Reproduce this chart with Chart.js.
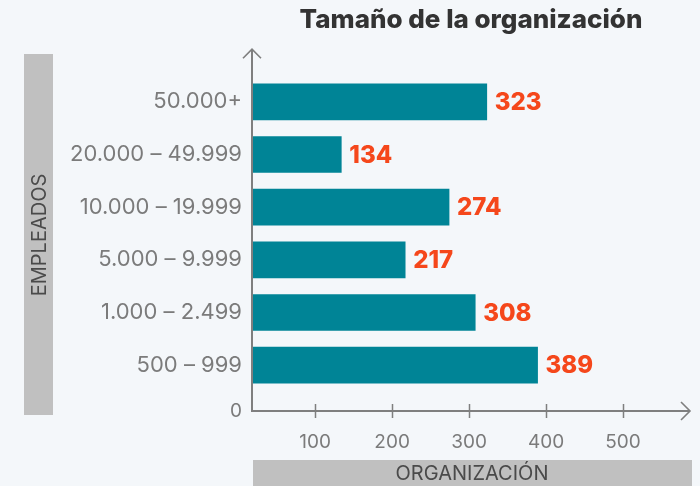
<!DOCTYPE html>
<html>
<head>
<meta charset="utf-8">
<script src="https://cdn.jsdelivr.net/npm/chart.js@4"></script>
<style>
    html, body { margin: 0; padding: 0; background: #f4f7fa; }
    #wrap { width: 700px; height: 486px; }
</style>
</head>
<body>
<div id="wrap"><canvas id="sizeChart"></canvas></div>
<script>
// DATA
const categories = ["50.000+", "20.000 – 49.999", "10.000 – 19.999", "5.000 – 9.999", "1.000 – 2.499", "500 – 999"];
const counts = [323, 134, 274, 217, 308, 389];
const xTicks = [100, 200, 300, 400, 500];
const originLabel = "0";

const axisGray = "#7f7f7f";
const labelGray = "#7b7b7b";
const fontFam = "Inter, 'Noto Sans', sans-serif";

// axes with arrows, tick marks, gray title boxes, value labels
const decorations = {
    id: "decorations",
    beforeDraw(chart) {
        const ctx = chart.ctx;
        ctx.save();
        ctx.fillStyle = "#c0c0c0";
        ctx.fillRect(24, 54, 29, 361);
        ctx.fillRect(253, 460, 439, 26);
        ctx.fillStyle = "#4a4a4a";
        ctx.font = "20px " + fontFam;
        ctx.textAlign = "center";
        ctx.textBaseline = "middle";
        ctx.fillText("ORGANIZACIÓN", 472, 474);
        ctx.translate(39, 235);
        ctx.rotate(-Math.PI / 2);
        ctx.fillText("EMPLEADOS", 0, 1);
        ctx.restore();
    },
    afterDraw(chart) {
        const ctx = chart.ctx;
        const a = chart.chartArea;
        const xs = chart.scales.x;
        ctx.save();
        ctx.strokeStyle = axisGray;
        ctx.lineWidth = 2;
        ctx.beginPath();
        ctx.moveTo(a.left, a.top);
        ctx.lineTo(a.left, a.bottom);
        ctx.lineTo(a.right, a.bottom);
        ctx.stroke();
        // arrows
        ctx.lineWidth = 1.6;
        ctx.beginPath();
        ctx.moveTo(a.left - 9, a.top + 9);
        ctx.lineTo(a.left, a.top);
        ctx.lineTo(a.left + 9, a.top + 9);
        ctx.moveTo(a.right - 9, a.bottom - 9);
        ctx.lineTo(a.right, a.bottom);
        ctx.lineTo(a.right - 9, a.bottom + 9);
        ctx.stroke();
        // tick marks
        ctx.lineWidth = 1.5;
        xTicks.forEach(v => {
            const px = Math.round(xs.getPixelForValue(v)) + 0.5;
            ctx.beginPath();
            ctx.moveTo(px, a.bottom - 7);
            ctx.lineTo(px, a.bottom + 7);
            ctx.stroke();
        });
        ctx.restore();
    },
    afterDatasetsDraw(chart) {
        const ctx = chart.ctx;
        ctx.save();
        ctx.fillStyle = "#f5471b";
        ctx.font = "800 24px " + fontFam;
        ctx.textAlign = "left";
        ctx.textBaseline = "middle";
        chart.getDatasetMeta(0).data.forEach((bar, i) => {
            ctx.fillText(counts[i], bar.x + 8, bar.y + 1);
        });
        ctx.restore();
    }
};

new Chart(document.getElementById("sizeChart"), {
    type: "bar",
    data: {
        datasets: [{
            data: counts.map((v, i) => ({ x: v, y: i })),
            backgroundColor: "#008496",
            barThickness: 36
        }]
    },
    options: {
        indexAxis: "y",
        responsive: true,
        maintainAspectRatio: false,
        animation: false,
        layout: { padding: { left: 0, right: 10, top: 0, bottom: 0 } },
        plugins: {
            legend: { display: false },
            tooltip: { enabled: false },
            title: {
                display: true,
                fullSize: false,
                text: "Tamaño de la organización",
                color: "#333333",
                font: { family: fontFam, size: 26, weight: "800", lineHeight: 1.2 },
                padding: { top: 5, bottom: 13 }
            }
        },
        scales: {
            y: {
                type: "linear",
                reverse: true,
                offset: false,
                min: -1,
                max: 5.87,
                grid: { display: false, drawTicks: false, offset: false },
                border: { display: false },
                afterBuildTicks: s => {
                    s.ticks = categories.map((c, i) => ({ value: i })).concat([{ value: 5.87 }]);
                },
                afterFit: s => { s.width = 252; },
                ticks: {
                    padding: 10,
                    color: labelGray,
                    font: c => ({ family: fontFam, size: c.tick && c.tick.value > 5.5 ? 19 : 22 }),
                    callback: v => v > 5.5 ? originLabel : categories[v]
                }
            },
            x: {
                type: "linear",
                min: 18,
                max: 587,
                grid: { display: false, drawTicks: false },
                border: { display: false },
                afterBuildTicks: s => {
                    s.ticks = xTicks.map(v => ({ value: v }));
                },
                afterFit: s => { s.height = 75; },
                ticks: {
                    padding: 20,
                    color: labelGray,
                    font: { family: fontFam, size: 19 }
                }
            }
        }
    },
    plugins: [decorations]
});
</script>
</body>
</html>
